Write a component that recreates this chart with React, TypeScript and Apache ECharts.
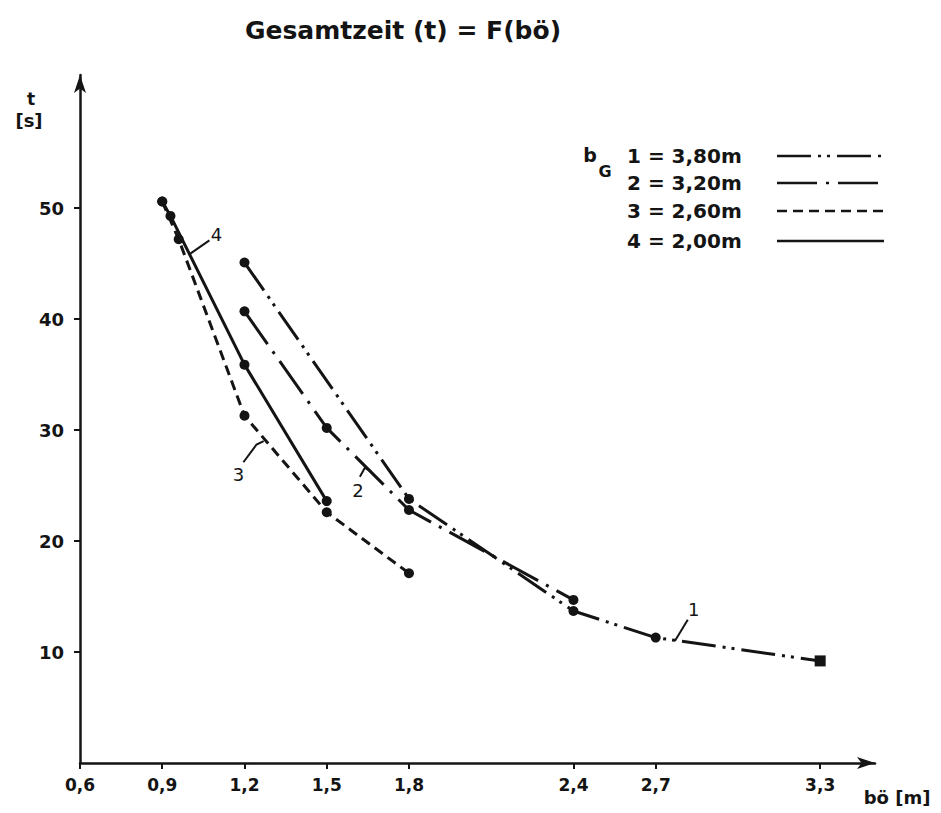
import React, { useEffect, useRef } from "react";
import * as echarts from "echarts";

// ---- data ----
const xTicks = [0.6, 0.9, 1.2, 1.5, 1.8, 2.4, 2.7, 3.3];
const yTicks = [10, 20, 30, 40, 50];

const s1X = [1.2, 1.8, 2.4, 2.7, 3.3];
const s1Y = [45.1, 23.8, 13.7, 11.3, 9.2];
const s2X = [1.2, 1.5, 1.8, 2.4];
const s2Y = [40.7, 30.2, 22.8, 14.7];
const s3X = [0.9, 0.96, 1.2, 1.5, 1.8];
const s3Y = [50.6, 47.2, 31.3, 22.6, 17.1];
const s4X = [0.9, 0.93, 1.2, 1.5];
const s4Y = [50.6, 49.3, 35.9, 23.6];

const seriesNames = ["1", "2", "3", "4"];
const legendLabels = ["1 = 3,80m", "2 = 3,20m", "3 = 2,60m", "4 = 2,00m"];

const curveLabelText = ["4", "3", "2", "1"];
const curveLabelPos = [
  [1.098, 47.6],
  [1.178, 26.0],
  [1.614, 24.6],
  [2.839, 13.8],
];
const leaderPaths = [
  [
    [1.0025, 45.9],
    [1.072, 47.1],
  ],
  [
    [1.196, 27.1],
    [1.244, 28.7],
    [1.27, 29.0],
  ],
  [
    [1.621, 25.8],
    [1.639, 26.6],
    [1.661, 26.3],
  ],
  [
    [2.77, 11.0],
    [2.817, 12.9],
  ],
];

const INK = "#141414";
const FONT = "DejaVu Sans";
const dashes: (number[] | "solid")[] = [
  [34, 7, 3, 6, 3, 7],
  [40, 9, 3, 9],
  [10, 6],
  "solid",
];

const fmt = (v: number) => v.toFixed(1).replace(".", ",");

export default function App() {
  const ref = useRef<HTMLDivElement>(null);
  useEffect(() => {
    document.body.style.margin = "0";
    if (!ref.current) return;
    const chart = echarts.init(ref.current, undefined, { renderer: "svg" });
    const xs = [s1X, s2X, s3X, s4X];
    const ys = [s1Y, s2Y, s3Y, s4Y];
    const series = xs.map((xv, si) => ({
      name: seriesNames[si],
      type: "line",
      data: xv.map((x, i) => {
        const d: any = { value: [x, ys[si][i]] };
        if (si === 0 && i === xv.length - 1) {
          d.symbol = "rect";
          d.symbolSize = 11;
        }
        return d;
      }),
      symbol: "circle",
      symbolSize: 10,
      itemStyle: { color: INK },
      lineStyle: { color: INK, width: 3, type: dashes[si] },
      z: 3,
    }));

    chart.setOption({
      animation: false,
      backgroundColor: "#ffffff",
      title: {
        text: "Gesamtzeit (t) = F(bö)",
        left: 398,
        top: 13,
        textAlign: "center",
        textStyle: { fontFamily: FONT, fontWeight: "bold", fontSize: 25, color: INK },
      },
      grid: { left: 80, right: 66, top: 75, bottom: 50, containLabel: false },
      xAxis: {
        type: "value",
        min: 0.6,
        max: 3.5,
        interval: 0.3,
        axisLine: {
          show: true,
          onZero: false,
          symbol: ["none", "arrow"],
          symbolSize: [9, 18],
          lineStyle: { color: INK, width: 2.5 },
        },
        axisTick: { show: true, length: 6, customValues: xTicks, lineStyle: { color: INK, width: 2 } },
        axisLabel: {
          customValues: xTicks,
          formatter: (v: number) => fmt(v),
          margin: 13,
          color: INK,
          fontFamily: FONT,
          fontWeight: "bold",
          fontSize: 17,
        },
        splitLine: { show: false },
      },
      yAxis: {
        type: "value",
        min: 0,
        max: 62,
        interval: 10,
        axisLine: {
          show: true,
          onZero: false,
          symbol: ["none", "arrow"],
          symbolSize: [9, 18],
          lineStyle: { color: INK, width: 2.5 },
        },
        axisTick: { show: true, length: 6, customValues: yTicks, lineStyle: { color: INK, width: 2 } },
        axisLabel: {
          customValues: yTicks,
          margin: 16,
          color: INK,
          fontFamily: FONT,
          fontWeight: "bold",
          fontSize: 18,
        },
        splitLine: { show: false },
      },
      series,
    });

    const toPx = (p: number[]) => chart.convertToPixel({ gridIndex: 0 }, p) as number[];
    const graphics: any[] = [];
    // axis names
    graphics.push(
      { type: "text", x: 31, y: 99, style: { text: "t", fontFamily: FONT, fontWeight: "bold", fontSize: 17, fill: INK, align: "center", verticalAlign: "middle" } },
      { type: "text", x: 29, y: 120, style: { text: "[s]", fontFamily: FONT, fontWeight: "bold", fontSize: 18, fill: INK, align: "center", verticalAlign: "middle" } },
      { type: "text", x: 897, y: 797, style: { text: "bö [m]", fontFamily: FONT, fontWeight: "bold", fontSize: 18, fill: INK, align: "center", verticalAlign: "middle" } }
    );
    // legend
    graphics.push(
      { type: "text", x: 590, y: 155, style: { text: "b", fontFamily: FONT, fontWeight: "bold", fontSize: 19, fill: INK, align: "center", verticalAlign: "middle" } },
      { type: "text", x: 605, y: 171, style: { text: "G", fontFamily: FONT, fontWeight: "bold", fontSize: 16, fill: INK, align: "center", verticalAlign: "middle" } }
    );
    const rowY = [156, 183, 211, 241];
    legendLabels.forEach((lbl, i) => {
      graphics.push({
        type: "text",
        x: 627,
        y: rowY[i],
        style: { text: lbl, fontFamily: FONT, fontWeight: "bold", fontSize: 20, fill: INK, align: "left", verticalAlign: "middle" },
      });
      const d = dashes[i];
      graphics.push({
        type: "line",
        shape: { x1: 777, y1: rowY[i], x2: 884, y2: rowY[i] },
        style: { stroke: INK, lineWidth: 2.5, lineDash: d === "solid" ? null : d },
      });
    });
    // curve annotations
    curveLabelText.forEach((t, i) => {
      const p = toPx(curveLabelPos[i]);
      graphics.push({
        type: "text",
        x: p[0],
        y: p[1],
        style: { text: t, fontFamily: FONT, fontSize: 18, fill: INK, align: "center", verticalAlign: "middle" },
      });
      graphics.push({
        type: "polyline",
        shape: { points: leaderPaths[i].map(toPx) },
        style: { stroke: INK, lineWidth: 2, fill: null },
      });
    });
    chart.setOption({ graphic: graphics });

    return () => chart.dispose();
  }, []);
  return <div ref={ref} style={{ width: 941, height: 813 }} />;
}
